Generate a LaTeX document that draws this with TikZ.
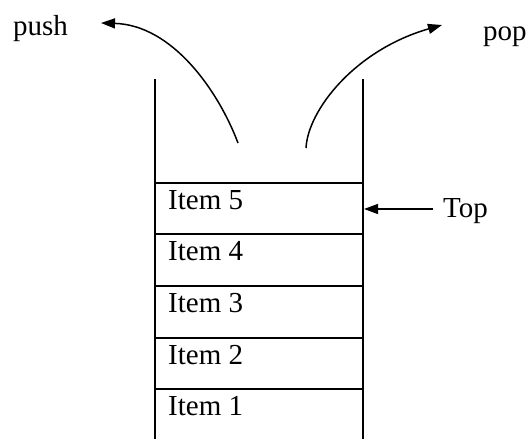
\documentclass[tikz,border=0pt]{standalone}
\usepackage{fontspec}
\setmainfont{Liberation Serif}
\usetikzlibrary{arrows.meta}
\begin{document}
\begin{tikzpicture}[x=1pt, y=-1pt, >={Triangle[length=14pt,width=10pt]}]

        % Area della figura (pixel del riferimento)
        \useasboundingbox (0,0) rectangle (529,439);

        % Stile per le etichette
        \tikzset{etichetta/.style={font=\fontsize{29}{34}\selectfont, inner sep=0pt, anchor=base west}}

        % Pareti della pila
        \draw[line width=2pt] (155,79) -- (155,439);
        \draw[line width=2pt] (363,79) -- (363,439);

        % Separatori ed elementi della pila
        \foreach \i/\y in {5/183,4/234,3/286,2/338,1/389} {
            \draw[line width=2pt] (155,\y) -- (363,\y);
            \node[etichetta] (item\i) at (168,\y+26) {Item \i};
        }

        % Puntatore alla cima
        \node[etichetta] (top) at (443,217) {Top};
        \coordinate (cima) at (364,209);
        \draw[->, line width=1.5pt] ([xshift=-10pt]top.west |- cima) -- (cima);

        % Operazioni push e pop
        \node[etichetta] (push) at (13,35) {push};
        \node[etichetta] (pop) at (483,40) {pop};
        \coordinate (pushstart) at (238,143);
        \coordinate (pushend) at (101,23);
        \coordinate (popstart) at (306,148);
        \coordinate (popend) at (442,25);
        \draw[->, line width=1.5pt] (pushstart) .. controls (218,90) and (172,25) .. (pushend);
        \draw[->, line width=1.5pt] (popstart) .. controls (308,110) and (355,50) .. (popend);

    \end{tikzpicture}
\end{document}
